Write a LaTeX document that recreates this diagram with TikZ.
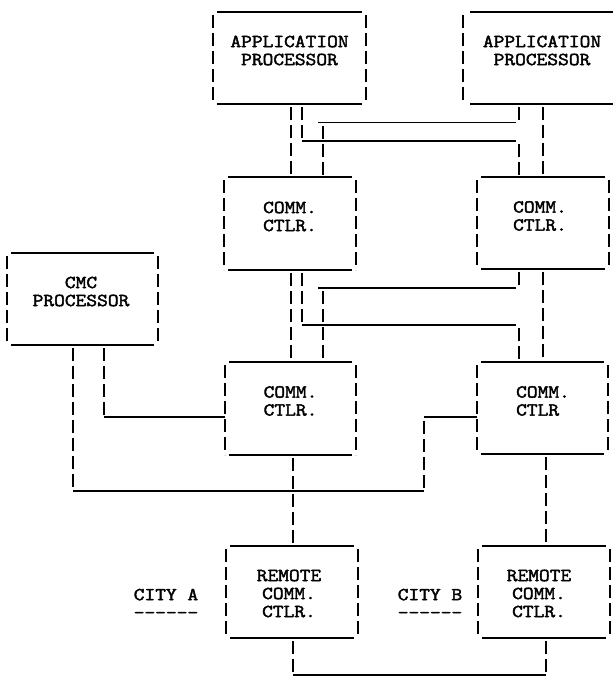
\documentclass[tikz,border=0pt]{standalone}
\usepackage{fontspec}
\newfontfamily\typewriter{Latin Modern Mono}[FakeBold=2.3,FakeStretch=1.14]

% frame of a typewritten box: underscore rows on top and bottom, bar columns at the sides
\newcommand\ttyframe[1]{%
  \draw[hline] ([xshift=4pt]#1.north west) -- ([xshift=-4pt]#1.north east);
  \draw[hline] ([xshift=4pt]#1.south west) -- ([xshift=-4pt]#1.south east);
  \draw[vline] (#1.north west) -- (#1.south west);
  \draw[vline] (#1.north east) -- (#1.south east);}

\begin{document}
\begin{tikzpicture}[x=1pt,y=-1pt,
  hline/.style={line width=1.3pt},
  vline/.style={line width=1.6pt,dash pattern=on 13pt off 5pt,dash phase=15pt},
  boxnode/.style={rectangle,draw=none,inner sep=0pt,outer sep=0pt},
  lbl/.style={inner sep=0pt,align=center,
    font=\fontsize{18.3}{18}\selectfont\typewriter}]

\useasboundingbox (0,0) rectangle (615,677);

% ---- boxes ----
\node[boxnode,minimum width=153pt,minimum height=92pt] (ap1) at (289.5,58) {};
\node[boxnode,minimum width=158pt,minimum height=92pt] (ap2) at (542,58) {};
\node[boxnode,minimum width=132pt,minimum height=93pt] (cc1) at (290,223.5) {};
\node[boxnode,minimum width=132pt,minimum height=92pt] (cc2) at (543,223) {};
\node[boxnode,minimum width=151pt,minimum height=92pt] (cmc) at (82.5,299) {};
\node[boxnode,minimum width=131pt,minimum height=93pt] (cc3) at (290.5,408.5) {};
\node[boxnode,minimum width=131pt,minimum height=92pt] (cc4) at (542.5,408) {};
\node[boxnode,minimum width=132pt,minimum height=92pt] (ra) at (292,592) {};
\node[boxnode,minimum width=132pt,minimum height=92pt] (rb) at (544,592) {};

\ttyframe{ap1}
\ttyframe{cc1}
\ttyframe{cc2}
\ttyframe{cmc}
\ttyframe{cc3}
\ttyframe{cc4}
\ttyframe{ra}
\ttyframe{rb}
% the right-hand processor runs off the sheet edge
\coordinate (sheetedge) at (613,0);
\draw[hline] ([xshift=7pt]ap2.north west) -- (ap2.north -| sheetedge);
\draw[hline] ([xshift=7pt]ap2.south west) -- (ap2.south -| sheetedge);
\draw[vline] (ap2.north west) -- (ap2.south west);

% ---- box texts ----
\node[lbl] (ap1t) at (289.5,50.5) {APPLICATION\\PROCESSOR};
\node[lbl] (ap2t) at (542,50.5) {APPLICATION\\PROCESSOR};
\node[lbl] (cc1t) at (290,216.5) {COMM.\\CTLR.};
\node[lbl] (cc2t) at (540,216) {COMM.\\CTLR.};
\node[lbl] (cmct) at (81,291.5) {CMC\\PROCESSOR};
\node[lbl] (cc3t) at (290.5,401) {COMM.\\CTLR.};
\node[lbl] (cc4t) at (543,401) {COMM.\\CTLR\phantom{.}};
\node[lbl] (rat) at (289,593.5) {REMOTE\\COMM.\\CTLR.};
\node[lbl] (rbt) at (539,593.5) {REMOTE\\COMM.\\CTLR.};
\node[lbl] (citya) at (166,603.5) {CITY A\\-\kern0pt-\kern0pt-\kern0pt-\kern0pt-\kern0pt-};
\node[lbl] (cityb) at (430,603.5) {CITY B\\-\kern0pt-\kern0pt-\kern0pt-\kern0pt-\kern0pt-};

% ---- columns and crossing rows of the links ----
\coordinate (ka) at (291,0);
\coordinate (kb) at (302,0);
\coordinate (kc) at (323,0);
\coordinate (kd) at (519,0);
\coordinate (ke) at (543,0);
\coordinate (xa1) at (0,122.5);
\coordinate (xa2) at (0,141);
\coordinate (xb1) at (0,288);
\coordinate (xb2) at (0,325);

% processors to first controller pair (crossed)
\draw[vline] (ap1.south -| ka) -- (cc1.north -| ka);
\draw[vline] (ap1.south -| kb) -- (kb |- xa2);
\draw[hline] (kb |- xa2) -- ([xshift=-3pt]kd |- xa2);
\draw[vline] (kd |- xa2) -- (cc2.north -| kd);
\draw[vline] (ap2.south -| kd) -- (kd |- xa1);
\draw[hline] ([xshift=-5pt]kc |- xa1) -- ([xshift=-3pt]kd |- xa1);
\draw[vline] (kc |- xa1) -- (cc1.north -| kc);
\draw[vline] (ap2.south -| ke) -- (cc2.north -| ke);

% first controller pair to second controller pair (crossed)
\draw[vline] (cc1.south -| ka) -- (cc3.north -| ka);
\draw[vline] (cc1.south -| kb) -- (kb |- xb2);
\draw[hline] (kb |- xb2) -- ([xshift=-3pt]kd |- xb2);
\draw[vline] (kd |- xb2) -- (cc4.north -| kd);
\draw[vline] (cc2.south -| kd) -- (kd |- xb1);
\draw[hline] ([xshift=-5pt]kc |- xb1) -- ([xshift=-3pt]kd |- xb1);
\draw[vline] (kc |- xb1) -- (cc3.north -| kc);
\draw[vline] (cc2.south -| ke) -- (cc4.north -| ke);

% CMC processor to both controllers
\coordinate (cmcl) at (73,0);
\coordinate (cmcr) at (104,0);
\coordinate (jog) at (424,0);
\coordinate (ya) at (0,417);
\coordinate (yb) at (0,491);
\draw[vline] (cmc.south -| cmcr) -- (cmcr |- ya);
\draw[hline] (cmcr |- ya) -- (cc3.west |- ya);
\draw[vline] (cmc.south -| cmcl) -- (cmcl |- yb);
\draw[hline] (cmcl |- yb) -- (jog |- yb);
\draw[vline] (jog |- yb) -- (jog |- ya);
\draw[hline] (jog |- ya) -- (cc4.west |- ya);

% controllers to remote controllers, and the remote link
\coordinate (kr) at (293,0);
\coordinate (ks) at (546,0);
\coordinate (yc) at (0,675);
\draw[vline] (cc3.south -| kr) -- (ra.north -| kr);
\draw[vline] (cc4.south -| ks) -- (rb.north -| ks);
\draw[vline] (ra.south -| kr) -- (kr |- yc);
\draw[hline] (kr |- yc) -- (ks |- yc);
\draw[vline] (rb.south -| ks) -- (ks |- yc);

\end{tikzpicture}
\end{document}
